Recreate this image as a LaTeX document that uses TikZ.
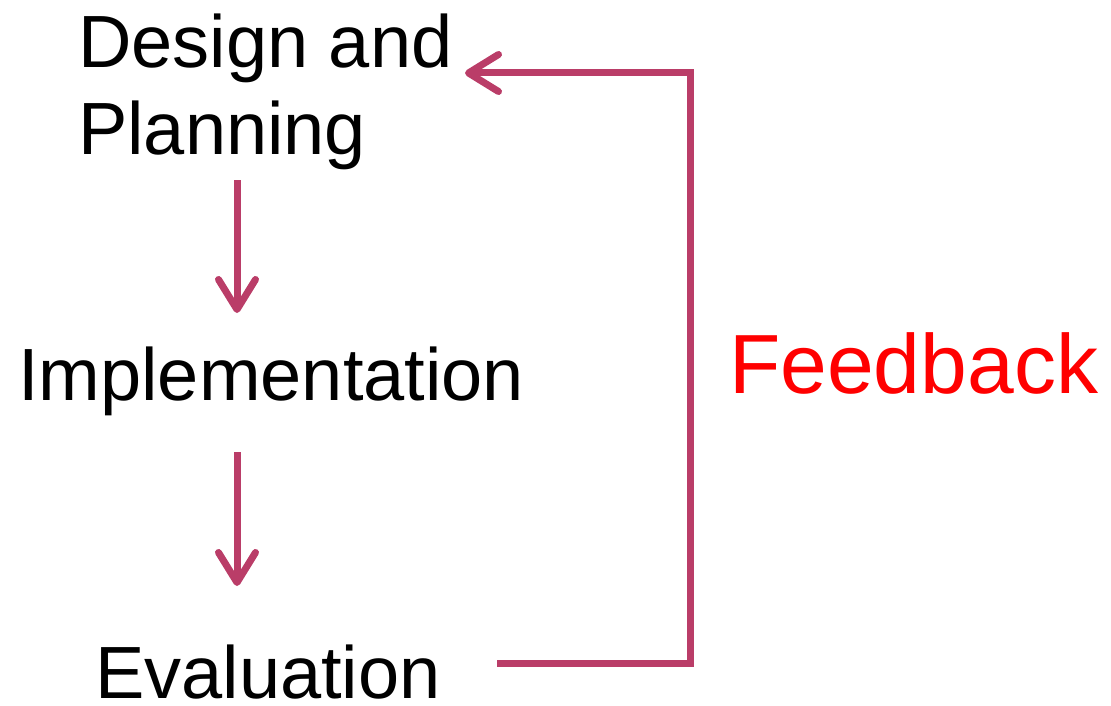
\documentclass[tikz,border=0pt]{standalone}
\usepackage{fontspec}
\setmainfont{Liberation Sans}
\usetikzlibrary{arrows.meta}
\definecolor{flow}{HTML}{BA3D68}
\definecolor{fbred}{HTML}{FF0000}
\begin{document}
\begin{tikzpicture}[x=1pt,y=-1pt,
  stage/.style={anchor=base west,inner sep=0pt,font=\fontsize{74}{87}\selectfont},
  flowline/.style={draw=flow,line width=7pt},
  flowarrow/.style={flowline,-{Straight Barb[length=30pt,width=37pt,round]}}]
\useasboundingbox (0,0) rectangle (1111,706);
% stage labels
\node[stage] (design) at (78,68) {Design and};
\node[stage] (plan) at (78,155) {Planning};
\node[stage] (impl) at (18,400) {Implementation};
\node[stage] (eval) at (95,698) {Evaluation};
\node[anchor=base west,inner sep=0pt,text=fbred,font=\fontsize{84}{100}\selectfont] (fb) at (729,393) {Feedback};
% arrow end points
\coordinate (a1s) at (237,180);
\coordinate (a1e) at (237,313);
\coordinate (a2s) at (237,452);
\coordinate (a2e) at (237,586);
\coordinate (fs) at (497,663);
\coordinate (fc1) at (690,663);
\coordinate (fc2) at (690,73);
\coordinate (fe) at (465,73);
% flow arrows
\draw[flowarrow] (a1s) -- (a1e);
\draw[flowarrow] (a2s) -- (a2e);
\draw[flowarrow] (fs) -- (fc1) -- (fc2) -- (fe);
\end{tikzpicture}
\end{document}
